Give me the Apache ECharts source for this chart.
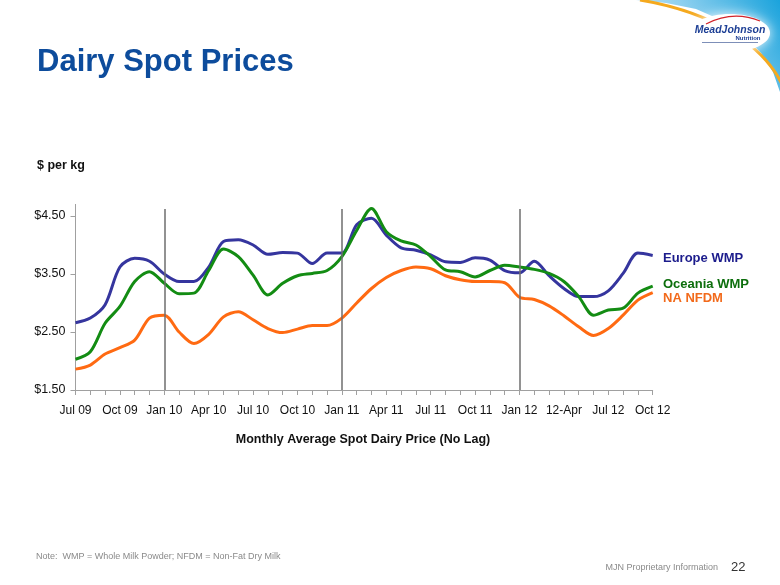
<!DOCTYPE html>
<html>
<head>
<meta charset="utf-8">
<script src="https://cdn.jsdelivr.net/npm/echarts@6/dist/echarts.min.js"></script>
<style>
html,body{margin:0;padding:0;background:#fff;}
#chart{width:780px;height:585px;}
</style>
</head>
<body>
<div id="chart"></div>
<script>
var months = ['Jul 09','Aug 09','Sep 09','Oct 09','Nov 09','Dec 09',
  'Jan 10','Feb 10','Mar 10','Apr 10','May 10','Jun 10','Jul 10','Aug 10','Sep 10','Oct 10','Nov 10','Dec 10',
  'Jan 11','Feb 11','Mar 11','Apr 11','May 11','Jun 11','Jul 11','Aug 11','Sep 11','Oct 11','Nov 11','Dec 11',
  'Jan 12','Feb 12','Mar 12','12-Apr','May 12','Jun 12','Jul 12','Aug 12','Sep 12','Oct 12'];

var europeWMP = [2.66,2.74,2.97,3.62,3.77,3.72,3.50,3.37,3.37,3.62,
  4.06,4.09,4.00,3.84,3.87,3.86,3.68,3.86,3.86,4.35,
  4.46,4.17,3.95,3.91,3.83,3.71,3.70,3.78,3.74,3.56,
  3.52,3.72,3.47,3.25,3.11,3.11,3.21,3.51,3.86,3.82];

var oceaniaWMP = [2.03,2.16,2.65,2.94,3.37,3.54,3.34,3.16,3.17,3.56,
  3.93,3.80,3.48,3.14,3.34,3.47,3.51,3.56,3.80,4.25,
  4.63,4.23,4.07,4.00,3.80,3.57,3.54,3.45,3.56,3.65,
  3.62,3.58,3.51,3.37,3.11,2.79,2.88,2.91,3.17,3.29];

var naNFDM = [1.86,1.93,2.12,2.23,2.36,2.74,2.79,2.50,2.30,2.46,
  2.76,2.85,2.71,2.56,2.49,2.55,2.61,2.61,2.74,3.00,
  3.25,3.44,3.56,3.62,3.59,3.47,3.40,3.37,3.37,3.35,
  3.10,3.06,2.95,2.78,2.59,2.44,2.56,2.79,3.05,3.18];

var yTicks = [1.5, 2.5, 3.5, 4.5];
var yearMarks = ['Jan 10', 'Jan 11', 'Jan 12'];

var seriesNames = ['Europe WMP', 'Oceania WMP', 'NA NFDM'];
var lineColors = ['#35359e', '#138c13', '#ff6a12'];
var labelColors = ['#1c1c8c', '#0c6e0c', '#f26a1b'];

var chart = echarts.init(document.getElementById('chart'), null, {renderer: 'canvas'});

var FONT = '"Liberation Sans", Arial, sans-serif';

function mkSeries(name, data, color, withMarks) {
  var s = {
    name: name, type: 'line', data: data, symbol: 'none', smooth: 0.3,
    lineStyle: {width: 3, color: color}, itemStyle: {color: color}, z: 3
  };
  if (withMarks) {
    s.markLine = {
      silent: true, symbol: ['none', 'none'], label: {show: false},
      lineStyle: {color: '#6e6e6e', width: 1.5, type: 'solid'},
      data: yearMarks.map(function (m) { return [{coord: [m, 4.62]}, {coord: [m, 1.5]}]; })
    };
  }
  return s;
}

var option = {
  animation: false,
  backgroundColor: '#fff',
  grid: {left: 75.5, right: 127.3, top: 204.4, bottom: 195, containLabel: false},
  xAxis: {
    type: 'category', data: months, boundaryGap: false,
    axisLine: {lineStyle: {color: '#a0a0a0', width: 1}},
    axisTick: {show: true, interval: 0, length: 5, lineStyle: {color: '#a0a0a0'}},
    axisLabel: {interval: 2, fontSize: 12, color: '#111', margin: 15, fontFamily: FONT},
    splitLine: {show: false}
  },
  yAxis: {
    type: 'value', min: 1.5, max: 4.7,
    axisLine: {show: true, lineStyle: {color: '#a0a0a0', width: 1}},
    axisTick: {show: true, length: 5, customValues: yTicks, lineStyle: {color: '#a0a0a0'}},
    axisLabel: {customValues: yTicks, fontSize: 12.5, color: '#111', margin: 10, fontFamily: FONT,
      formatter: function (v) { return '$' + v.toFixed(2); }},
    splitLine: {show: false}
  },
  series: [
    mkSeries(seriesNames[0], europeWMP, lineColors[0], true),
    mkSeries(seriesNames[1], oceaniaWMP, lineColors[1], false),
    mkSeries(seriesNames[2], naNFDM, lineColors[2], false)
  ],
  graphic: [
    // corner decoration / logo
    {type: 'polygon', z: 1, shape: {points: [[636,0],[780,0],[780,92],[773,72],[761,53],[743,35],[721,20],[696,9],[666,3]]},
      style: {fill: new echarts.graphic.LinearGradient(0, 1, 1, 0, [
        {offset: 0, color: '#e6f4fb'}, {offset: 0.5, color: '#8fd0ef'}, {offset: 1, color: '#1aa3dc'}])}},
    {type: 'bezierCurve', z: 2, shape: {x1: 640, y1: 0, cpx1: 712, cpy1: 12, cpx2: 762, cpy2: 44, x2: 782, y2: 84},
      style: {fill: null, stroke: '#f5a91e', lineWidth: 3}},
    {type: 'ellipse', z: 3, shape: {cx: 730, cy: 33, rx: 40, ry: 19},
      style: {fill: '#ffffff', shadowBlur: 12, shadowColor: 'rgba(255,255,255,0.9)'}},
    {type: 'bezierCurve', z: 4, shape: {x1: 706, y1: 24, cpx1: 733, cpy1: 10, x2: 760, y2: 21},
      style: {fill: null, stroke: '#d2232a', lineWidth: 1.2}},
    {type: 'text', z: 5, x: 730, y: 30, style: {text: 'MeadJohnson', fontSize: 10.5, fontWeight: 'bold',
      fontStyle: 'italic', fill: '#1d3f95', fontFamily: FONT, textAlign: 'center', textVerticalAlign: 'middle'}},
    {type: 'text', z: 5, x: 748, y: 38.5, style: {text: 'Nutrition', fontSize: 6, fontWeight: 'bold',
      fill: '#1d3f95', fontFamily: FONT, textAlign: 'center', textVerticalAlign: 'middle'}},
    {type: 'rect', z: 5, shape: {x: 702, y: 42, width: 56, height: 1}, style: {fill: '#7d8fb8'}},

    // title
    {type: 'text', x: 37, y: 62.5, style: {text: 'Dairy Spot Prices', fontSize: 31, fontWeight: 'bold',
      fill: '#0d4c9c', fontFamily: FONT, textVerticalAlign: 'middle'}},
    // y unit
    {type: 'text', x: 37, y: 166, style: {text: '$ per kg', fontSize: 12.5, fontWeight: 'bold',
      fill: '#111', fontFamily: FONT, textVerticalAlign: 'middle'}},
    // x axis title
    {type: 'text', x: 363, y: 440, style: {text: 'Monthly Average Spot Dairy Price (No Lag)', fontSize: 12.5,
      fontWeight: 'bold', fill: '#111', fontFamily: FONT, textAlign: 'center', textVerticalAlign: 'middle'}},
    // series labels
    {type: 'text', x: 663, y: 258.5, style: {text: seriesNames[0], fontSize: 13, fontWeight: 'bold',
      fill: labelColors[0], fontFamily: FONT, textVerticalAlign: 'middle'}},
    {type: 'text', x: 663, y: 284, style: {text: seriesNames[1], fontSize: 13, fontWeight: 'bold',
      fill: labelColors[1], fontFamily: FONT, textVerticalAlign: 'middle'}},
    {type: 'text', x: 663, y: 298.5, style: {text: seriesNames[2], fontSize: 13, fontWeight: 'bold',
      fill: labelColors[2], fontFamily: FONT, textVerticalAlign: 'middle'}},
    // footer
    {type: 'text', x: 36, y: 557, style: {text: 'Note:  WMP = Whole Milk Powder; NFDM = Non-Fat Dry Milk',
      fontSize: 9, fill: '#8a8a8a', fontFamily: FONT, textVerticalAlign: 'middle'}},
    {type: 'text', x: 718, y: 567.5, style: {text: 'MJN Proprietary Information', fontSize: 9,
      fill: '#8a8a8a', fontFamily: FONT, textAlign: 'right', textVerticalAlign: 'middle'}},
    {type: 'text', x: 731, y: 567, style: {text: '22', fontSize: 13,
      fill: '#333', fontFamily: FONT, textVerticalAlign: 'middle'}}
  ]
};

chart.setOption(option);
</script>
</body>
</html>
